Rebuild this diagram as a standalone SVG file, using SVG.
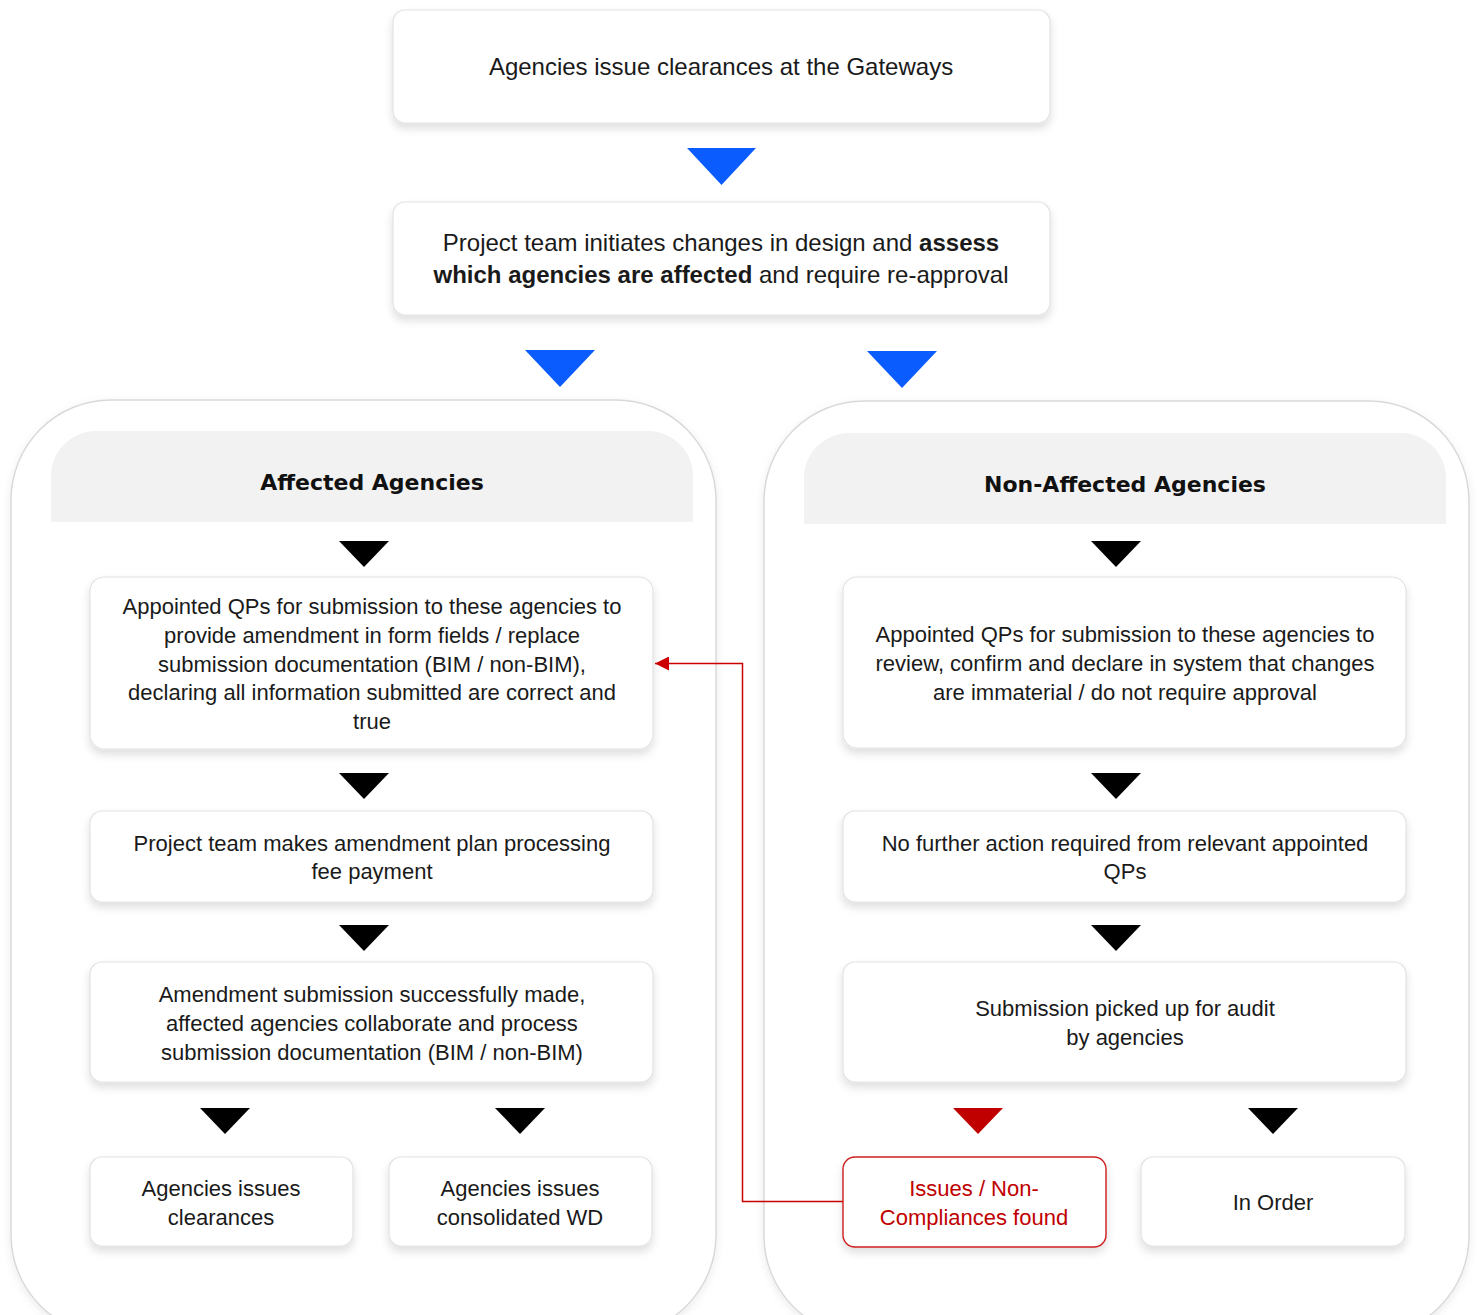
<svg xmlns="http://www.w3.org/2000/svg" width="1477" height="1315" viewBox="0 0 1477 1315">
<defs>
<filter id="sh" x="-10%" y="-20%" width="120%" height="150%"><feDropShadow dx="0" dy="5" stdDeviation="4" flood-color="#000" flood-opacity="0.13"/></filter>
<filter id="psh" x="-5%" y="-5%" width="110%" height="110%"><feDropShadow dx="0" dy="3" stdDeviation="4" flood-color="#000" flood-opacity="0.08"/></filter>
<marker id="ra" viewBox="0 0 10 10" refX="10" refY="5" markerWidth="16" markerHeight="14" markerUnits="userSpaceOnUse" orient="auto"><path d="M0,0 L10,5 L0,10 Z" fill="#cc0000"/></marker>
<style>
.box{fill:#fff;stroke:#e2e2e2;stroke-width:1.2;filter:url(#sh)}
.rbox{fill:#fff;stroke:#cc1f1f;stroke-width:1.4;filter:url(#sh)}
.panel{fill:#fff;stroke:#d9d9d9;stroke-width:1.5;filter:url(#psh)}
.hdr{fill:#f2f2f2}
.t{font-family:"Liberation Sans",Arial,sans-serif;font-size:22px;fill:#1a1a1a;text-anchor:middle}
.t2{font-family:"Liberation Sans",Arial,sans-serif;font-size:24px;fill:#1a1a1a;text-anchor:middle}
.h{font-family:"DejaVu Sans","Liberation Sans",sans-serif;font-size:22px;font-weight:600;fill:#111;text-anchor:middle}
.red{fill:#c00000}
.blue{fill:#0a5cff}
.blk{fill:#000}
.rt{fill:#c00000}
</style>
</defs>

<g id="panel-left">
<rect class="panel" x="11" y="400" width="705" height="935" rx="100"/>
<path class="hdr" d="M51,522 V476 A45,45 0 0 1 96,431 H648 A45,45 0 0 1 693,476 V522 Z"/>
<text class="h" x="372" y="490">Affected Agencies</text>
</g>
<g id="panel-right">
<rect class="panel" x="764" y="401" width="705" height="935" rx="100"/>
<path class="hdr" d="M804,524 V478 A45,45 0 0 1 849,433 H1401 A45,45 0 0 1 1446,478 V524 Z"/>
<text class="h" x="1125" y="492">Non-Affected Agencies</text>
</g>

<g id="n-gateways">
<rect class="box" x="393" y="10" width="657" height="113" rx="12"/>
<text class="t2" x="721" y="75">Agencies issue clearances at the Gateways</text>
</g>
<g id="n-initiate">
<rect class="box" x="393" y="202" width="657" height="113" rx="12"/>
<text class="t2" x="721" y="251">Project team initiates changes in design and <tspan font-weight="bold">assess</tspan></text>
<text class="t2" x="721" y="283"><tspan font-weight="bold">which agencies are affected</tspan> and require re-approval</text>
</g>

<g id="n-left-a">
<rect class="box" x="90" y="577" width="563" height="172" rx="14"/>
<text class="t" x="372" y="614">Appointed QPs for submission to these agencies to</text>
<text class="t" x="372" y="643">provide amendment in form fields / replace</text>
<text class="t" x="372" y="672">submission documentation (BIM / non-BIM),</text>
<text class="t" x="372" y="700">declaring all information submitted are correct and</text>
<text class="t" x="372" y="729">true</text>
</g>
<g id="n-left-b">
<rect class="box" x="90" y="811" width="563" height="91" rx="12"/>
<text class="t" x="372" y="851">Project team makes amendment plan processing</text>
<text class="t" x="372" y="879">fee payment</text>
</g>
<g id="n-left-c">
<rect class="box" x="90" y="962" width="563" height="120" rx="12"/>
<text class="t" x="372" y="1002">Amendment submission successfully made,</text>
<text class="t" x="372" y="1031">affected agencies collaborate and process</text>
<text class="t" x="372" y="1060">submission documentation (BIM / non-BIM)</text>
</g>
<g id="n-left-d">
<rect class="box" x="90" y="1157" width="263" height="89" rx="12"/>
<text class="t" x="221" y="1196">Agencies issues</text>
<text class="t" x="221" y="1225">clearances</text>
</g>
<g id="n-left-e">
<rect class="box" x="389" y="1157" width="263" height="89" rx="12"/>
<text class="t" x="520" y="1196">Agencies issues</text>
<text class="t" x="520" y="1225">consolidated WD</text>
</g>

<g id="n-right-a">
<rect class="box" x="843" y="577" width="563" height="171" rx="14"/>
<text class="t" x="1125" y="642">Appointed QPs for submission to these agencies to</text>
<text class="t" x="1125" y="671">review, confirm and declare in system that changes</text>
<text class="t" x="1125" y="700">are immaterial / do not require approval</text>
</g>
<g id="n-right-b">
<rect class="box" x="843" y="811" width="563" height="91" rx="12"/>
<text class="t" x="1125" y="851">No further action required from relevant appointed</text>
<text class="t" x="1125" y="879">QPs</text>
</g>
<g id="n-right-c">
<rect class="box" x="843" y="962" width="563" height="120" rx="12"/>
<text class="t" x="1125" y="1016">Submission picked up for audit</text>
<text class="t" x="1125" y="1045">by agencies</text>
</g>
<g id="n-right-d">
<rect class="rbox" x="843" y="1157" width="263" height="90" rx="12"/>
<text class="t rt" x="974" y="1196">Issues / Non-</text>
<text class="t rt" x="974" y="1225">Compliances found</text>
</g>
<g id="n-right-e">
<rect class="box" x="1141" y="1157" width="264" height="89" rx="12"/>
<text class="t" x="1273" y="1210">In Order</text>
</g>

<g id="connectors">
<polygon class="blue" points="687,148 756,148 721.5,185"/>
<polygon class="blue" points="525,350 595,350 560,387"/>
<polygon class="blue" points="867,351 937,351 902,388"/>
<polygon class="blk" points="339,541 389,541 364,567"/>
<polygon class="blk" points="339,773 389,773 364,799"/>
<polygon class="blk" points="339,925 389,925 364,951"/>
<polygon class="blk" points="200,1108 250,1108 225,1134"/>
<polygon class="blk" points="495,1108 545,1108 520,1134"/>
<polygon class="blk" points="1091,541 1141,541 1116,567"/>
<polygon class="blk" points="1091,773 1141,773 1116,799"/>
<polygon class="blk" points="1091,925 1141,925 1116,951"/>
<polygon class="red" points="953,1108 1003,1108 978,1134"/>
<polygon class="blk" points="1248,1108 1298,1108 1273,1134"/>
<polyline points="843,1201.5 742.5,1201.5 742.5,663.5 655,663.5" fill="none" stroke="#cc0000" stroke-width="1.5" marker-end="url(#ra)"/>
</g>
</svg>
